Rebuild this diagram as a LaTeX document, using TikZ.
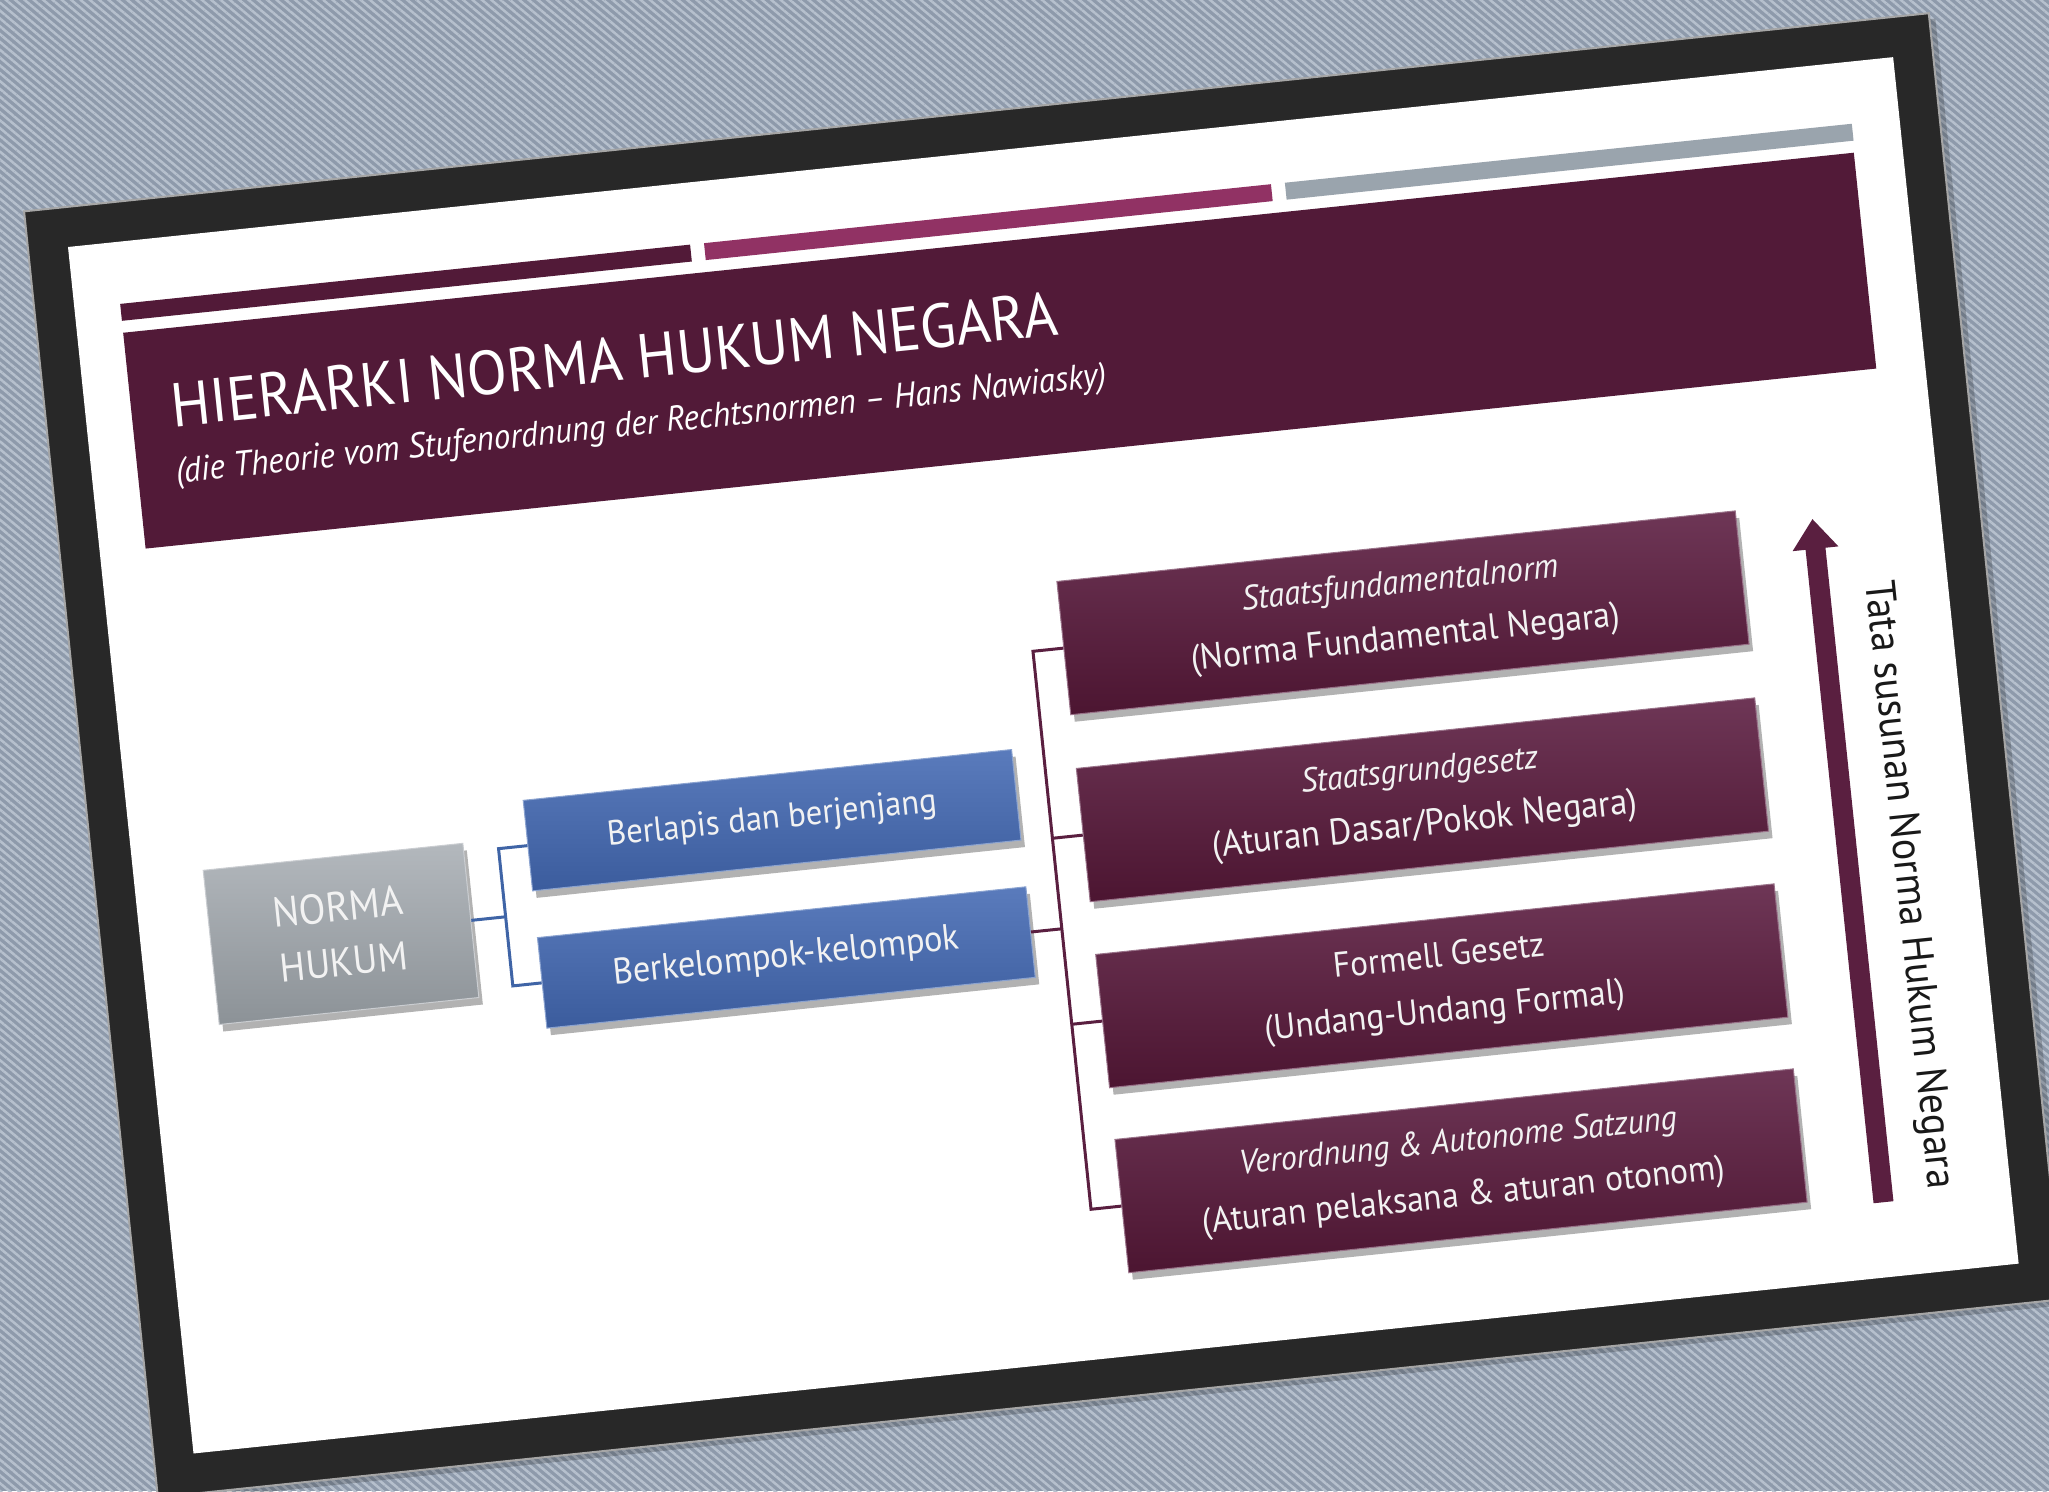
\documentclass[tikz,border=0pt]{standalone}
\usepackage{fontspec}
\setmainfont{PT Sans}
\usetikzlibrary{shadows,patterns.meta,arrows.meta}
\definecolor{denim}{HTML}{8E9AAB}
\definecolor{denimlight}{HTML}{B6C0CD}
\definecolor{framec}{HTML}{282828}
\definecolor{banner}{HTML}{521A38}
\definecolor{barpink}{HTML}{913264}
\definecolor{bargray}{HTML}{9AA4AD}
\definecolor{mtop}{HTML}{6E3656}
\definecolor{mbot}{HTML}{4C1531}
\definecolor{btop}{HTML}{5A7BBC}
\definecolor{bbot}{HTML}{3B5C9D}
\definecolor{gtop}{HTML}{B3B8BD}
\definecolor{gbot}{HTML}{8C9297}
\definecolor{blueline}{HTML}{3F64A6}
\definecolor{maroonline}{HTML}{5A1F40}
\definecolor{boxtext}{HTML}{F2F2F2}
\newcommand{\fw}[2]{\scalebox{1}[1.06]{\resizebox{#1pt}{!}{#2}}}
\tikzset{
  boxbase/.style={inner sep=0pt, align=center, text=boxtext,
    font=\fontsize{36}{55}\selectfont,
    drop shadow={shadow xshift=4pt, shadow yshift=-7pt, opacity=0.3, fill=black}},
  mbox/.style={boxbase, minimum width=682pt, minimum height=134pt,
    top color=mtop, bottom color=mbot, draw=mtop!70!white, line width=1pt},
  bbox/.style={boxbase, minimum width=491pt, minimum height=91pt,
    top color=btop, bottom color=bbot, draw=btop!70!white, line width=1pt},
  gbox/.style={boxbase, minimum width=261pt, minimum height=155pt,
    top color=gtop, bottom color=gbot, draw=gtop!70!white, line width=1pt},
  bconn/.style={draw=blueline, line width=3pt},
  mconn/.style={draw=maroonline, line width=3pt},
}
\begin{document}
\begin{tikzpicture}[x=1pt,y=-1pt]
\useasboundingbox (0,0) rectangle (2049,1491);
\fill[denim] (0,0) rectangle (2049,1491);
\fill[pattern={Lines[angle=-40,distance=6pt,line width=2.5pt]},pattern color=denimlight] (0,0) rectangle (2049,1491);
\begin{scope}[shift={(68,247)},rotate=5.94,transform shape]
  % frame and slide
  \fill[black,opacity=0.2] (-36,-34) rectangle (1881,1259);
  \filldraw[fill=framec,draw=gray!70,line width=2pt] (-40,-40) rectangle (1875,1253);
  \fill[white] (0,0) rectangle (1835,1213);
  % top bars and banner
  \fill[banner] (46,62) rectangle (619,79);
  \fill[barpink] (633,62) rectangle (1203,79);
  \fill[bargray] (1217,62) rectangle (1787,79);
  \fill[banner] (46,91) rectangle (1786,308);
  \node[anchor=base west, inner sep=0pt, text=white, font=\fontsize{50}{60}\selectfont] (title) at (86,190) {\fw{891}{HIERARKI NORMA HUKUM NEGARA}};
  \node[anchor=base west, inner sep=0pt, text=white, font=\fontsize{30}{36}\selectfont] (subtitle) at (84,246) {\fw{935}{\itshape (die Theorie vom Stufenordnung der Rechtsnormen -- Hans Nawiasky)}};
  % boxes
  \node[gbox] (norma) at (200.5,711.5) {\fw{131}{NORMA}\\\fw{128}{HUKUM}};
  \node[bbox] (b1) at (641,643) {\fw{331}{Berlapis dan berjenjang}};
  \node[bbox] (b2) at (641,781) {\fw{348}{Berkelompok-kelompok}};
  \node[mbox] (mA) at (1290,502) {\fw{318}{\itshape Staatsfundamentalnorm}\\\fw{431}{(Norma Fundamental Negara)}};
  \node[mbox] (mB) at (1290,690) {\fw{238}{\itshape Staatsgrundgesetz}\\\fw{427}{(Aturan Dasar/Pokok Negara)}};
  \node[mbox] (mC) at (1290,877) {\fw{212}{Formell Gesetz}\\\fw{362}{(Undang-Undang Formal)}};
  \node[mbox] (mD) at (1290,1063) {\fw{440}{\itshape Verordnung \& Autonome Satzung}\\\fw{525}{(Aturan pelaksana \& aturan otonom)}};
  % junction points
  \coordinate (bj) at (366,711.5);
  \coordinate (bj1) at (366,643);
  \coordinate (bj2) at (366,781);
  \coordinate (mj) at (918,781);
  \coordinate (mjA) at (918,502);
  \coordinate (mjB) at (918,690);
  \coordinate (mjC) at (918,877);
  \coordinate (mjD) at (918,1063);
  \draw[bconn] (norma.east) -- (bj);
  \draw[bconn] (b1.west) -- (bj1) -- (bj2) -- (b2.west);
  \draw[mconn] (b2.east) -- (mj);
  \draw[mconn] (mA.west) -- (mjA) -- (mjD) -- (mD.west);
  \draw[mconn] (mjB) -- (mB.west);
  \draw[mconn] (mjC) -- (mC.west);
  % arrow
  \coordinate (abot) at (1707,1138);
  \coordinate (atip) at (1707,451);
  \draw[maroonline, line width=20pt, -{Triangle[width=44pt,length=30pt]}] (abot) -- (atip);
  \node[rotate=-90, inner sep=0pt, text=black!90, font=\fontsize{36}{40}\selectfont] (vt) at (1764,825) {\fw{611}{Tata susunan Norma Hukum Negara}};
\end{scope}
\end{tikzpicture}
\end{document}
